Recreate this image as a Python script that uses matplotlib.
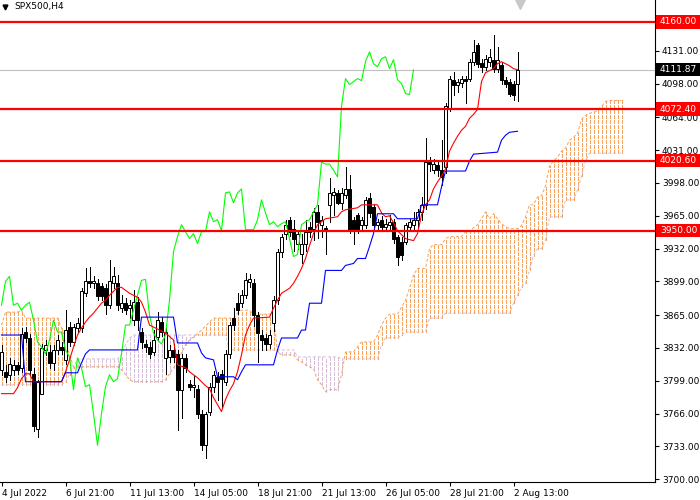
import matplotlib
matplotlib.use('Agg')
import matplotlib.pyplot as plt
import matplotlib.transforms as mtransforms
from matplotlib.patches import Rectangle

symbol = 'SPX500,H4'

# H4 candles
opens = [3810, 3808, 3805, 3810, 3815, 3812, 3848, 3842, 3806, 3750,
         3786, 3830, 3828, 3817, 3830, 3833, 3820, 3853, 3838, 3852,
         3852, 3887, 3899, 3897, 3897, 3894, 3892, 3875, 3897, 3897,
         3872, 3877, 3872, 3860, 3878, 3848, 3836, 3833, 3828, 3843,
         3858, 3822, 3823, 3830, 3826, 3790, 3822, 3796, 3793, 3791,
         3766, 3734, 3768, 3793, 3803, 3806, 3798, 3826, 3862, 3877,
         3877, 3885, 3898, 3897, 3865, 3845, 3842, 3836, 3857, 3880,
         3929, 3947, 3961, 3952, 3937, 3927, 3937, 3954, 3952, 3969,
         3956, 3953, 3976, 3986, 3988, 3978, 3986, 3992, 3961, 3966,
         3956, 3956, 3983, 3974, 3956, 3961, 3954, 3956, 3959, 3944,
         3939, 3939, 3954, 3956, 3961, 3969, 3976, 4019, 4011, 4016,
         4011, 4014, 4073, 4102, 4097, 4099, 4103, 4103, 4120, 4137,
         4119, 4115, 4120, 4122, 4113, 4117, 4102, 4100, 4098, 4098]
highs = [3835, 3815, 3822, 3820, 3818, 3852, 3853, 3846, 3812, 3800,
         3836, 3840, 3835, 3835, 3845, 3838, 3870, 3858, 3856, 3862,
         3892, 3912, 3913, 3904, 3901, 3897, 3896, 3920, 3913, 3905,
         3885, 3882, 3880, 3890, 3883, 3852, 3840, 3838, 3850, 3868,
         3863, 3852, 3835, 3836, 3830, 3826, 3826, 3800, 3805, 3795,
         3770, 3768, 3797, 3809, 3808, 3810, 3830, 3858, 3872, 3887,
         3890, 3907, 3906, 3901, 3868, 3850, 3846, 3850, 3884, 3932,
         3947, 3961, 3964, 3961, 3950, 3947, 3961, 3959, 3973, 3976,
         3965, 3955, 4003, 3993, 3991, 3993, 4014, 4006, 3964, 3968,
         3964, 3984, 3988, 3977, 3962, 3965, 3962, 3966, 3962, 3946,
         3944, 3958, 3962, 3969, 3972, 3984, 4043, 4024, 4022, 4020,
         4041, 4078, 4106, 4110, 4103, 4106, 4106, 4123, 4142, 4139,
         4123, 4127, 4133, 4147, 4135, 4120, 4105, 4103, 4101, 4130]
lows = [3805, 3798, 3800, 3805, 3806, 3808, 3838, 3805, 3748, 3742,
        3786, 3825, 3812, 3810, 3826, 3826, 3816, 3834, 3835, 3848,
        3848, 3884, 3893, 3892, 3880, 3880, 3866, 3872, 3892, 3870,
        3868, 3866, 3862, 3855, 3850, 3832, 3828, 3822, 3825, 3840,
        3844, 3806, 3818, 3818, 3749, 3761, 3808, 3790, 3783, 3762,
        3729, 3721, 3765, 3788, 3780, 3772, 3795, 3822, 3850, 3866,
        3873, 3882, 3893, 3854, 3818, 3830, 3830, 3832, 3849, 3876,
        3924, 3942, 3945, 3930, 3932, 3917, 3930, 3944, 3941, 3943,
        3944, 3927, 3959, 3966, 3977, 3972, 3983, 3948, 3937, 3948,
        3952, 3953, 3964, 3952, 3952, 3950, 3950, 3952, 3938, 3915,
        3920, 3937, 3950, 3951, 3954, 3961, 3972, 4010, 4008, 4005,
        3996, 4008, 4070, 4087, 4090, 4095, 4078, 4101, 4117, 4115,
        4110, 4112, 4116, 4110, 4110, 4098, 4095, 4085, 4081, 4080]
closes = [3828, 3803, 3816, 3815, 3810, 3846, 3842, 3810, 3753, 3798,
          3832, 3835, 3817, 3830, 3840, 3830, 3850, 3838, 3853, 3857,
          3889, 3899, 3897, 3899, 3884, 3884, 3875, 3899, 3904, 3875,
          3877, 3870, 3875, 3878, 3860, 3838, 3833, 3826, 3840, 3860,
          3848, 3848, 3830, 3823, 3790, 3822, 3812, 3793, 3795, 3766,
          3734, 3766, 3793, 3805, 3798, 3801, 3826, 3855, 3855, 3870,
          3885, 3900, 3901, 3865, 3847, 3840, 3836, 3845, 3880, 3929,
          3944, 3956, 3949, 3942, 3947, 3937, 3949, 3949, 3969, 3959,
          3961, 3950, 3988, 3989, 3978, 3988, 3992, 3951, 3951, 3951,
          3961, 3981, 3968, 3956, 3959, 3954, 3957, 3959, 3942, 3924,
          3926, 3956, 3959, 3961, 3969, 3976, 4019, 4017, 4017, 4011,
          4004, 4075, 4103, 4097, 4100, 4103, 4101, 4120, 4130, 4118,
          4115, 4123, 4125, 4113, 4122, 4102, 4098, 4088, 4087, 4111.87]

# Ichimoku cloud spans (bars 0..155, 26 bars ahead of the last candle)
span_a = [3855, 3868, 3868, 3868, 3868, 3870, 3862, 3862, 3862, 3862,
          3862, 3862, 3862, 3862, 3862, 3852, 3840, 3825, 3813, 3813,
          3813, 3813, 3813, 3813, 3813, 3813, 3813, 3813, 3813, 3813,
          3810, 3805, 3800, 3798, 3798, 3798, 3798, 3798, 3798, 3798,
          3798, 3800, 3806, 3812, 3818, 3827, 3835, 3840, 3843, 3846,
          3850, 3854, 3858, 3862, 3862, 3862, 3862, 3862, 3862, 3867,
          3870, 3870, 3870, 3866, 3866, 3866, 3866, 3866, 3866, 3828,
          3825, 3825, 3825, 3825, 3820, 3818, 3815, 3813, 3811, 3800,
          3795, 3788, 3790, 3790, 3790, 3805, 3828, 3828, 3828, 3833,
          3838, 3838, 3838, 3838, 3845, 3855, 3862, 3866, 3866, 3866,
          3873, 3880, 3892, 3905, 3912, 3912, 3912, 3932, 3936, 3936,
          3936, 3942, 3944, 3944, 3944, 3944, 3949, 3949, 3953, 3956,
          3962, 3969, 3962, 3967, 3962, 3957, 3954, 3952, 3952, 3952,
          3955, 3964, 3976, 3976, 3984, 3985, 3995, 4015, 4020, 4024,
          4030, 4033, 4041, 4044, 4048, 4062, 4066, 4068, 4069, 4071,
          4075, 4080, 4081, 4081, 4081, 4081]
span_b = [3795, 3795, 3795, 3795, 3795, 3795, 3795, 3795, 3795, 3795,
          3795, 3795, 3795, 3795, 3795, 3795, 3798, 3805, 3812, 3821,
          3821, 3821, 3821, 3821, 3821, 3821, 3821, 3821, 3821, 3821,
          3825, 3835, 3842, 3845, 3845, 3845, 3845, 3845, 3845, 3845,
          3845, 3845, 3845, 3845, 3845, 3845, 3845, 3845, 3845, 3845,
          3845, 3845, 3845, 3845, 3845, 3845, 3845, 3830, 3830, 3830,
          3830, 3830, 3830, 3830, 3830, 3830, 3830, 3830, 3830, 3830,
          3830, 3830, 3830, 3830, 3823, 3823, 3823, 3823, 3823, 3823,
          3823, 3823, 3823, 3823, 3823, 3821, 3821, 3821, 3821, 3821,
          3821, 3821, 3821, 3821, 3821, 3835, 3842, 3842, 3842, 3842,
          3845, 3848, 3848, 3848, 3848, 3848, 3848, 3862, 3862, 3862,
          3862, 3867, 3867, 3867, 3867, 3867, 3867, 3867, 3867, 3867,
          3867, 3867, 3867, 3867, 3867, 3867, 3867, 3867, 3877, 3885,
          3893, 3897, 3910, 3925, 3932, 3932, 3941, 3964, 3964, 3964,
          3964, 3981, 3981, 3981, 3991, 4005, 4020, 4028, 4028, 4028,
          4028, 4028, 4028, 4028, 4028, 4028]

# Tenkan-sen and Kijun-sen vertices (bar, price)
tenkan_pts = [(0, 3786), (3, 3786), (4, 3792), (5, 3801), (6, 3806), (7, 3806),
              (8, 3798), (15, 3798), (16, 3808), (17, 3820), (18, 3833), (19, 3845),
              (20, 3852), (21, 3858), (22, 3863), (23, 3867), (24, 3872), (25, 3877),
              (26, 3880), (27, 3885), (28, 3889), (29, 3893), (30, 3893), (31, 3890),
              (32, 3887), (33, 3885), (34, 3883), (35, 3878), (36, 3868), (37, 3855),
              (38, 3853), (40, 3849), (41, 3847), (43, 3840), (44, 3815), (46, 3812),
              (47, 3808), (49, 3802), (50, 3798), (51, 3794), (52, 3791), (53, 3782),
              (54, 3775), (55, 3768), (56, 3780), (57, 3789), (58, 3796), (59, 3808),
              (60, 3825), (61, 3845), (62, 3855), (63, 3862), (67, 3863), (68, 3872),
              (69, 3880), (70, 3887), (72, 3892), (73, 3897), (74, 3904), (75, 3912),
              (76, 3922), (77, 3935), (78, 3947), (79, 3956), (80, 3959), (81, 3962),
              (84, 3964), (85, 3969), (86, 3971), (89, 3973), (90, 3976), (94, 3976),
              (95, 3968), (96, 3964), (97, 3965), (98, 3958), (99, 3950), (100, 3946),
              (101, 3942), (103, 3940), (104, 3947), (105, 3966), (106, 3976), (107, 3981),
              (108, 3992), (109, 3999), (110, 4005), (111, 4012), (112, 4030), (113, 4038),
              (114, 4045), (115, 4051), (116, 4055), (117, 4063), (118, 4067), (119, 4072),
              (120, 4100), (121, 4109), (122, 4111), (123, 4113), (124, 4118), (125, 4120),
              (126, 4118), (127, 4116), (128, 4113), (129, 4112)]
kijun_pts = [(0, 3845), (5, 3845), (6, 3798), (15, 3798), (16, 3807), (19, 3807),
             (20, 3817), (21, 3826), (22, 3830), (34, 3830), (35, 3863), (43, 3863),
             (44, 3837), (49, 3837), (50, 3827), (51, 3822), (53, 3820), (54, 3803),
             (58, 3803), (59, 3800), (60, 3808), (61, 3815), (68, 3815), (69, 3830),
             (70, 3842), (74, 3842), (75, 3850), (76, 3850), (77, 3877), (80, 3877),
             (81, 3910), (85, 3910), (86, 3915), (88, 3917), (89, 3922), (91, 3922),
             (92, 3934), (93, 3947), (94, 3967), (98, 3967), (99, 3962), (104, 3962),
             (105, 3976), (109, 3976), (110, 3994), (111, 4010), (116, 4010), (117, 4020),
             (118, 4027), (124, 4029), (125, 4041), (126, 4046), (127, 4049), (129, 4050)]

levels = [4160.0, 4072.4, 4020.6, 3950.0]
bid = 4111.87
price_ticks = [3700, 3733, 3766, 3799, 3832, 3865, 3899, 3932, 3965, 3998,
               4031, 4064, 4098, 4131]
time_ticks = [0, 16, 32, 48, 64, 80, 96, 112, 128]
time_labels = ['4 Jul 2022', '6 Jul 21:00', '11 Jul 13:00', '14 Jul 05:00',
               '18 Jul 21:00', '21 Jul 13:00', '26 Jul 05:00', '28 Jul 21:00',
               '2 Aug 13:00']

plt.rcParams['font.family'] = ['DejaVu Sans']
fs = 6.5
dash = (0, (3, 2))
sandy = '#F4A460'
thistle = '#D8BFD8'

fig = plt.figure(figsize=(7, 5), dpi=100)
ax = fig.add_axes([0, 18 / 500, 655 / 700, 482 / 500])
ax.set_xlim(-0.375, 163.375)
ax.set_ylim(3697.1, 4182.1)

# cloud: vertical dotted hatch per bar + the two span lines
for i in range(len(span_a)):
    a, b = span_a[i], span_b[i]
    col = sandy if a >= b else thistle
    ax.vlines(i, min(a, b), max(a, b), color=col, lw=0.72, linestyles=[dash],
              antialiased=False, zorder=1)
ax.plot(range(len(span_b)), span_b, color=thistle, lw=0.72, ls=dash, zorder=1)
ax.plot(range(len(span_a)), span_a, color=sandy, lw=0.72, ls=dash, zorder=1)

ax.axhline(bid, color='#C0C0C0', lw=0.8, zorder=2)

# candles
n = len(closes)
ax.vlines(range(n), lows, highs, color='black', lw=0.72, antialiased=False, zorder=3)
for i in range(n):
    o, c = opens[i], closes[i]
    up = c >= o
    ax.bar(i, max(abs(c - o), 0.6), bottom=min(o, c), width=0.68,
           color='white' if up else 'black', edgecolor='black', lw=0.72, zorder=4)

# chikou, tenkan, kijun
ax.plot(range(n - 26), closes[26:], color='#00FF00', lw=0.8, zorder=5)
tx, ty = zip(*tenkan_pts)
ax.plot(tx, ty, color='#FF0000', lw=0.8, zorder=5)
kx, ky = zip(*kijun_pts)
ax.plot(kx, ky, color='#0000FF', lw=0.8, zorder=5)

for lv in levels:
    ax.axhline(lv, color='#FF0000', lw=1.6, zorder=6)

# axes styling
for s in ['top', 'left']:
    ax.spines[s].set_visible(False)
for s in ['right', 'bottom']:
    ax.spines[s].set_linewidth(0.8)
ax.yaxis.tick_right()
ax.set_yticks(price_ticks, [f'{v:.2f}' for v in price_ticks])
ax.set_xticks(time_ticks, time_labels)
for lbl in ax.get_xticklabels():
    lbl.set_horizontalalignment('left')
ax.tick_params(axis='y', direction='out', length=3, width=0.8, pad=2, labelsize=fs)
ax.tick_params(axis='x', direction='out', length=3, width=0.8, pad=2, labelsize=fs)

# price labels on the scale
trans = mtransforms.blended_transform_factory(ax.transAxes, ax.transData)
for val, bg in [(lv, '#FF0000') for lv in levels] + [(bid, 'black')]:
    ax.add_patch(Rectangle((1.0015, val - 6.6), 0.068, 13.2, transform=trans,
                           facecolor=bg, edgecolor='none', clip_on=False, zorder=10))
    ax.text(1.0 + 5 / 655, val, f'{val:.2f}', transform=trans, va='center', ha='left',
            color='white', fontsize=fs, zorder=11, clip_on=False)

ax.plot([5 / 655], [1 - 7 / 482], marker='v', color='black', ms=3.5,
        transform=ax.transAxes, clip_on=False)
ax.plot([520 / 655], [1 - 3 / 482], marker='v', color='#C8C8C8', ms=8,
        transform=ax.transAxes, clip_on=False)
fig.text(14 / 700, 1 - 7 / 500, symbol, fontsize=fs, va='center', ha='left')

fig.savefig('out.png', dpi=100)
